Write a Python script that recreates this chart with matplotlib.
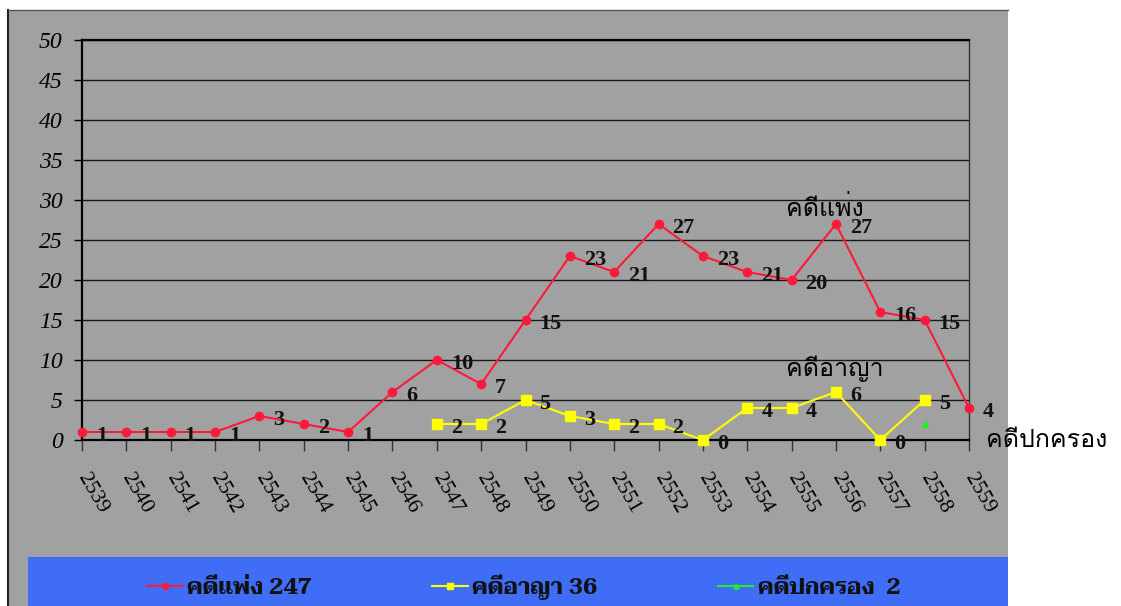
import matplotlib
matplotlib.use("Agg")
import matplotlib.pyplot as plt
from matplotlib.patches import Rectangle
from matplotlib.lines import Line2D

# ---------------- data ----------------
years = list(range(2539, 2560))
civil_years = years
civil_vals = [1, 1, 1, 1, 3, 2, 1, 6, 10, 7, 15, 23, 21, 27, 23, 21, 20, 27, 16, 15, 4]
crim_years = list(range(2547, 2559))
crim_vals = [2, 2, 5, 3, 2, 2, 0, 4, 4, 6, 0, 5]
admin_years = [2558]
admin_vals = [2]
legend_labels = ["คดีแพ่ง 247", "คดีอาญา 36", "คดีปกครอง  2"]
series_names = ["คดีแพ่ง", "คดีอาญา", "คดีปกครอง"]
yticks = list(range(0, 51, 5))

W, H = 1121, 606
fig = plt.figure(figsize=(W / 100, H / 100), dpi=100)
fig.patch.set_facecolor("white")

def fx(px):
    return px / W

def fy(py):
    return 1 - py / H

GRAY = "#a1a1a1"
BLUE = "#3f6df5"
RED = "#ff1a3c"
YEL = "#ffff00"
GRN = "#22ee22"

# outer gray panel
fig.patches.append(Rectangle((fx(8), 0), fx(1008) - fx(8), fy(10), transform=fig.transFigure,
                             facecolor=GRAY, edgecolor="none", zorder=-3))
fig.lines.append(Line2D([fx(8), fx(8)], [0, fy(10)], transform=fig.transFigure, color="#222222",
                        lw=1.5, zorder=-2))
fig.lines.append(Line2D([fx(8), fx(1008)], [fy(10), fy(10)], transform=fig.transFigure,
                        color="#555555", lw=1.0, zorder=-2))
# blue legend band
fig.patches.append(Rectangle((fx(28), 0), fx(1008) - fx(28), fy(557), transform=fig.transFigure,
                             facecolor=BLUE, edgecolor="none", zorder=-2))

ax = fig.add_axes([fx(82), fy(440), fx(969) - fx(82), fy(40) - fy(440)])
ax.set_zorder(1)
ax.set_facecolor(GRAY)
ax.set_xlim(2539, 2559)
ax.set_ylim(0, 50)
ax.set_yticks(yticks)
ax.set_xticks(years)
ax.grid(axis="y", color="#1a1a1a", lw=1.0)
ax.set_axisbelow(True)
for s in ["left", "bottom", "top"]:
    ax.spines[s].set_color("black")
    ax.spines[s].set_linewidth(1.6)
ax.spines["right"].set_color("#333333")
ax.spines["right"].set_linewidth(1.0)
ax.tick_params(axis="y", direction="out", length=6, width=1, color="black", pad=8)
ax.tick_params(axis="x", direction="out", length=8, width=1, color="#333333", pad=17)

ax.set_yticklabels([str(v) for v in yticks], fontfamily=["Liberation Serif"], fontstyle="italic",
                   fontsize=17)
ax.set_xticklabels([str(y) for y in years], rotation=-60, rotation_mode="anchor",
                   ha="left", va="center", fontfamily=["Liberation Serif"], fontsize=15.5)

l1, = ax.plot(civil_years, civil_vals, color=RED, lw=1.5, marker="o", ms=6, mec=RED, mfc=RED,
              clip_on=False, zorder=4)
l2, = ax.plot(crim_years, crim_vals, color=YEL, lw=1.5, marker="s", ms=7, mec=YEL, mfc=YEL,
              clip_on=False, zorder=4)
l3, = ax.plot(admin_years, admin_vals, color=GRN, lw=1.5, marker="^", ms=5, mec=GRN, mfc=GRN,
              clip_on=False, zorder=4)

lab_kw = dict(textcoords="offset pixels", ha="left", va="center", fontsize=16, fontweight="bold",
              fontfamily=["Liberation Serif"], color="#111111", zorder=5, annotation_clip=False)
for x, v in zip(civil_years, civil_vals):
    ax.annotate(str(v), (x, v), xytext=(14, -4), **lab_kw)
for x, v in zip(crim_years, crim_vals):
    ax.annotate(str(v), (x, v), xytext=(14, -4), **lab_kw)

# series name annotations
thai = ["Loma", "Noto Sans Thai Looped", "DejaVu Sans"]
fig.text(fx(786), fy(216), series_names[0], fontsize=18, fontfamily=thai, ha="left", va="baseline")
fig.text(fx(786), fy(376), series_names[1], fontsize=18, fontfamily=thai, ha="left", va="baseline")
fig.text(fx(986), fy(447), series_names[2], fontsize=18, fontfamily=thai, ha="left", va="baseline")

# legend
leg = fig.legend([l1, l2, l3], legend_labels, loc="center", bbox_to_anchor=(fx(524), fy(587)),
                 ncol=3, frameon=False, handlelength=1.6, handletextpad=0.2, columnspacing=5.4,
                 prop=dict(family=["Taviraj", "Liberation Serif"], weight="bold", size=16),
                 markerscale=0.7)
for t in leg.get_texts():
    t.set_color("#111111")

fig.savefig("out.png", dpi=100, facecolor="white")
